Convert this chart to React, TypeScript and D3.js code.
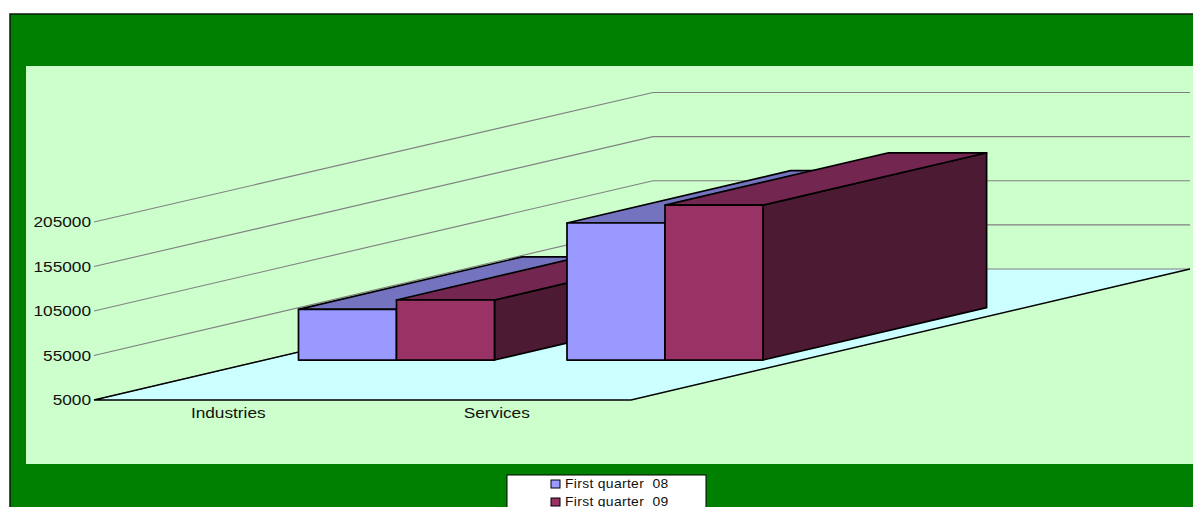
import React from 'react';
import * as d3 from 'd3';

const categories = ['Industries', 'Services'];
const seriesNames = ['First quarter  08', 'First quarter  09'];
const firstQuarter08 = [62000, 159000];
const firstQuarter09 = [72500, 179000];
const yTicks = [5000, 55000, 105000, 155000, 205000];

const seriesValues = [firstQuarter08, firstQuarter09];
const seriesColors = [
  { front: '#9999ff', top: '#7373bf', side: '#4d4d80' },
  { front: '#993366', top: '#732650', side: '#4d1a33' },
];

const width = 1193;
const height = 507;

// front-left corner of the floor, and the depth vector going to the back
const floorX = 94;
const floorY = 400;
const floorRight = 631;
const depthDx = 559;
const depthDy = -131;

const xScale = d3.scaleBand<string>().domain(categories).range([floorX, floorRight]);
const seriesScale = d3
  .scaleBand<number>()
  .domain([0, 1])
  .range([34, 230]);
const yScale = d3.scaleLinear().domain([5000, 205000]).range([0, 178]);
// the back of the wall comes out a touch shorter than the front
const backScale = d3.scaleLinear().domain([5000, 205000]).range([0, 176.5]);

const barDepthStart = 0.305;
const barDepthEnd = 0.705;

// the original's text is stretched sideways
const textStretch = 1.15;

const project = (x: number, depth: number, h = 0): [number, number] => [
  x + depthDx * depth,
  floorY + depthDy * depth - h,
];
const poly = d3.line();
const shape = (pts: [number, number][]) => poly(pts) + 'Z';

function Bar({ category, index, value }: { category: string; index: number; value: number }) {
  const x0 = (xScale(category) || 0) + (seriesScale(index) || 0);
  const x1 = x0 + seriesScale.bandwidth();
  const h = yScale(value);
  const a = barDepthStart;
  const b = barDepthEnd;
  const c = seriesColors[index];
  return (
    <g stroke="#000" strokeWidth={1.7} strokeLinejoin="round">
      <path
        d={shape([project(x1, a, 0), project(x1, b, 0), project(x1, b, h), project(x1, a, h)])}
        fill={c.side}
      />
      <path
        d={shape([project(x0, a, h), project(x1, a, h), project(x1, b, h), project(x0, b, h)])}
        fill={c.top}
      />
      <path
        d={shape([project(x0, a, 0), project(x1, a, 0), project(x1, a, h), project(x0, a, h)])}
        fill={c.front}
      />
    </g>
  );
}

export default function App() {
  return (
    <svg
      width={width}
      height={height}
      style={{ position: 'absolute', left: 0, top: 0, display: 'block', background: '#fff' }}
      fontFamily="'Liberation Sans', Arial, sans-serif"
    >
      <rect x={10} y={14} width={width} height={height} fill="#008000" stroke="#0a1a0a" strokeWidth={1.5} />
      <rect x={26} y={66} width={width - 26} height={398} fill="#ccffcc" />

      {/* floor */}
      <path
        d={shape([project(floorX, 0), project(floorRight, 0), project(floorRight, 1), project(floorX, 1)])}
        fill="#ccffff"
      />

      {/* wall grid lines */}
      {yTicks.map((t) => {
        const backY = floorY + depthDy - backScale(t);
        return (
          <path
            key={t}
            d={poly([[floorX, floorY - yScale(t)], [floorX + depthDx, backY], [floorRight + depthDx, backY]]) || ''}
            fill="none"
            stroke="#808080"
            strokeWidth={1.1}
          />
        );
      })}

      {/* floor edges */}
      <path
        d={poly([project(floorX, 1), project(floorX, 0), project(floorRight, 0), project(floorRight, 1)]) || ''}
        fill="none"
        stroke="#000"
        strokeWidth={1.5}
      />

      {yTicks.map((t) => (
        <text
          key={t}
          transform={`translate(91,${floorY - yScale(t) + 5}) scale(${textStretch},1)`}
          textAnchor="end"
          fontSize={15}
          fill="#111"
        >
          {t}
        </text>
      ))}

      {categories.map((cat, ci) =>
        seriesValues.map((vals, si) => <Bar key={cat + si} category={cat} index={si} value={vals[ci]} />),
      )}

      {categories.map((cat) => (
        <text
          key={cat}
          transform={`translate(${(xScale(cat) || 0) + xScale.bandwidth() / 2},418) scale(${textStretch},1)`}
          textAnchor="middle"
          fontSize={15}
          fill="#111"
        >
          {cat}
        </text>
      ))}

      {/* legend */}
      <rect x={507} y={475} width={199} height={50} fill="#fff" stroke="#000" strokeWidth={1} />
      {seriesNames.map((name, i) => (
        <g key={name}>
          <rect x={551} y={480 + i * 18} width={9} height={8} fill={seriesColors[i].front} stroke="#000" strokeWidth={1} />
          <text
            transform={`translate(565,${488 + i * 18}) scale(1.07,1)`}
            fontSize={13}
            fill="#111"
            style={{ whiteSpace: 'pre' }}
            letterSpacing={0.3}
          >
            {name}
          </text>
        </g>
      ))}
    </svg>
  );
}
